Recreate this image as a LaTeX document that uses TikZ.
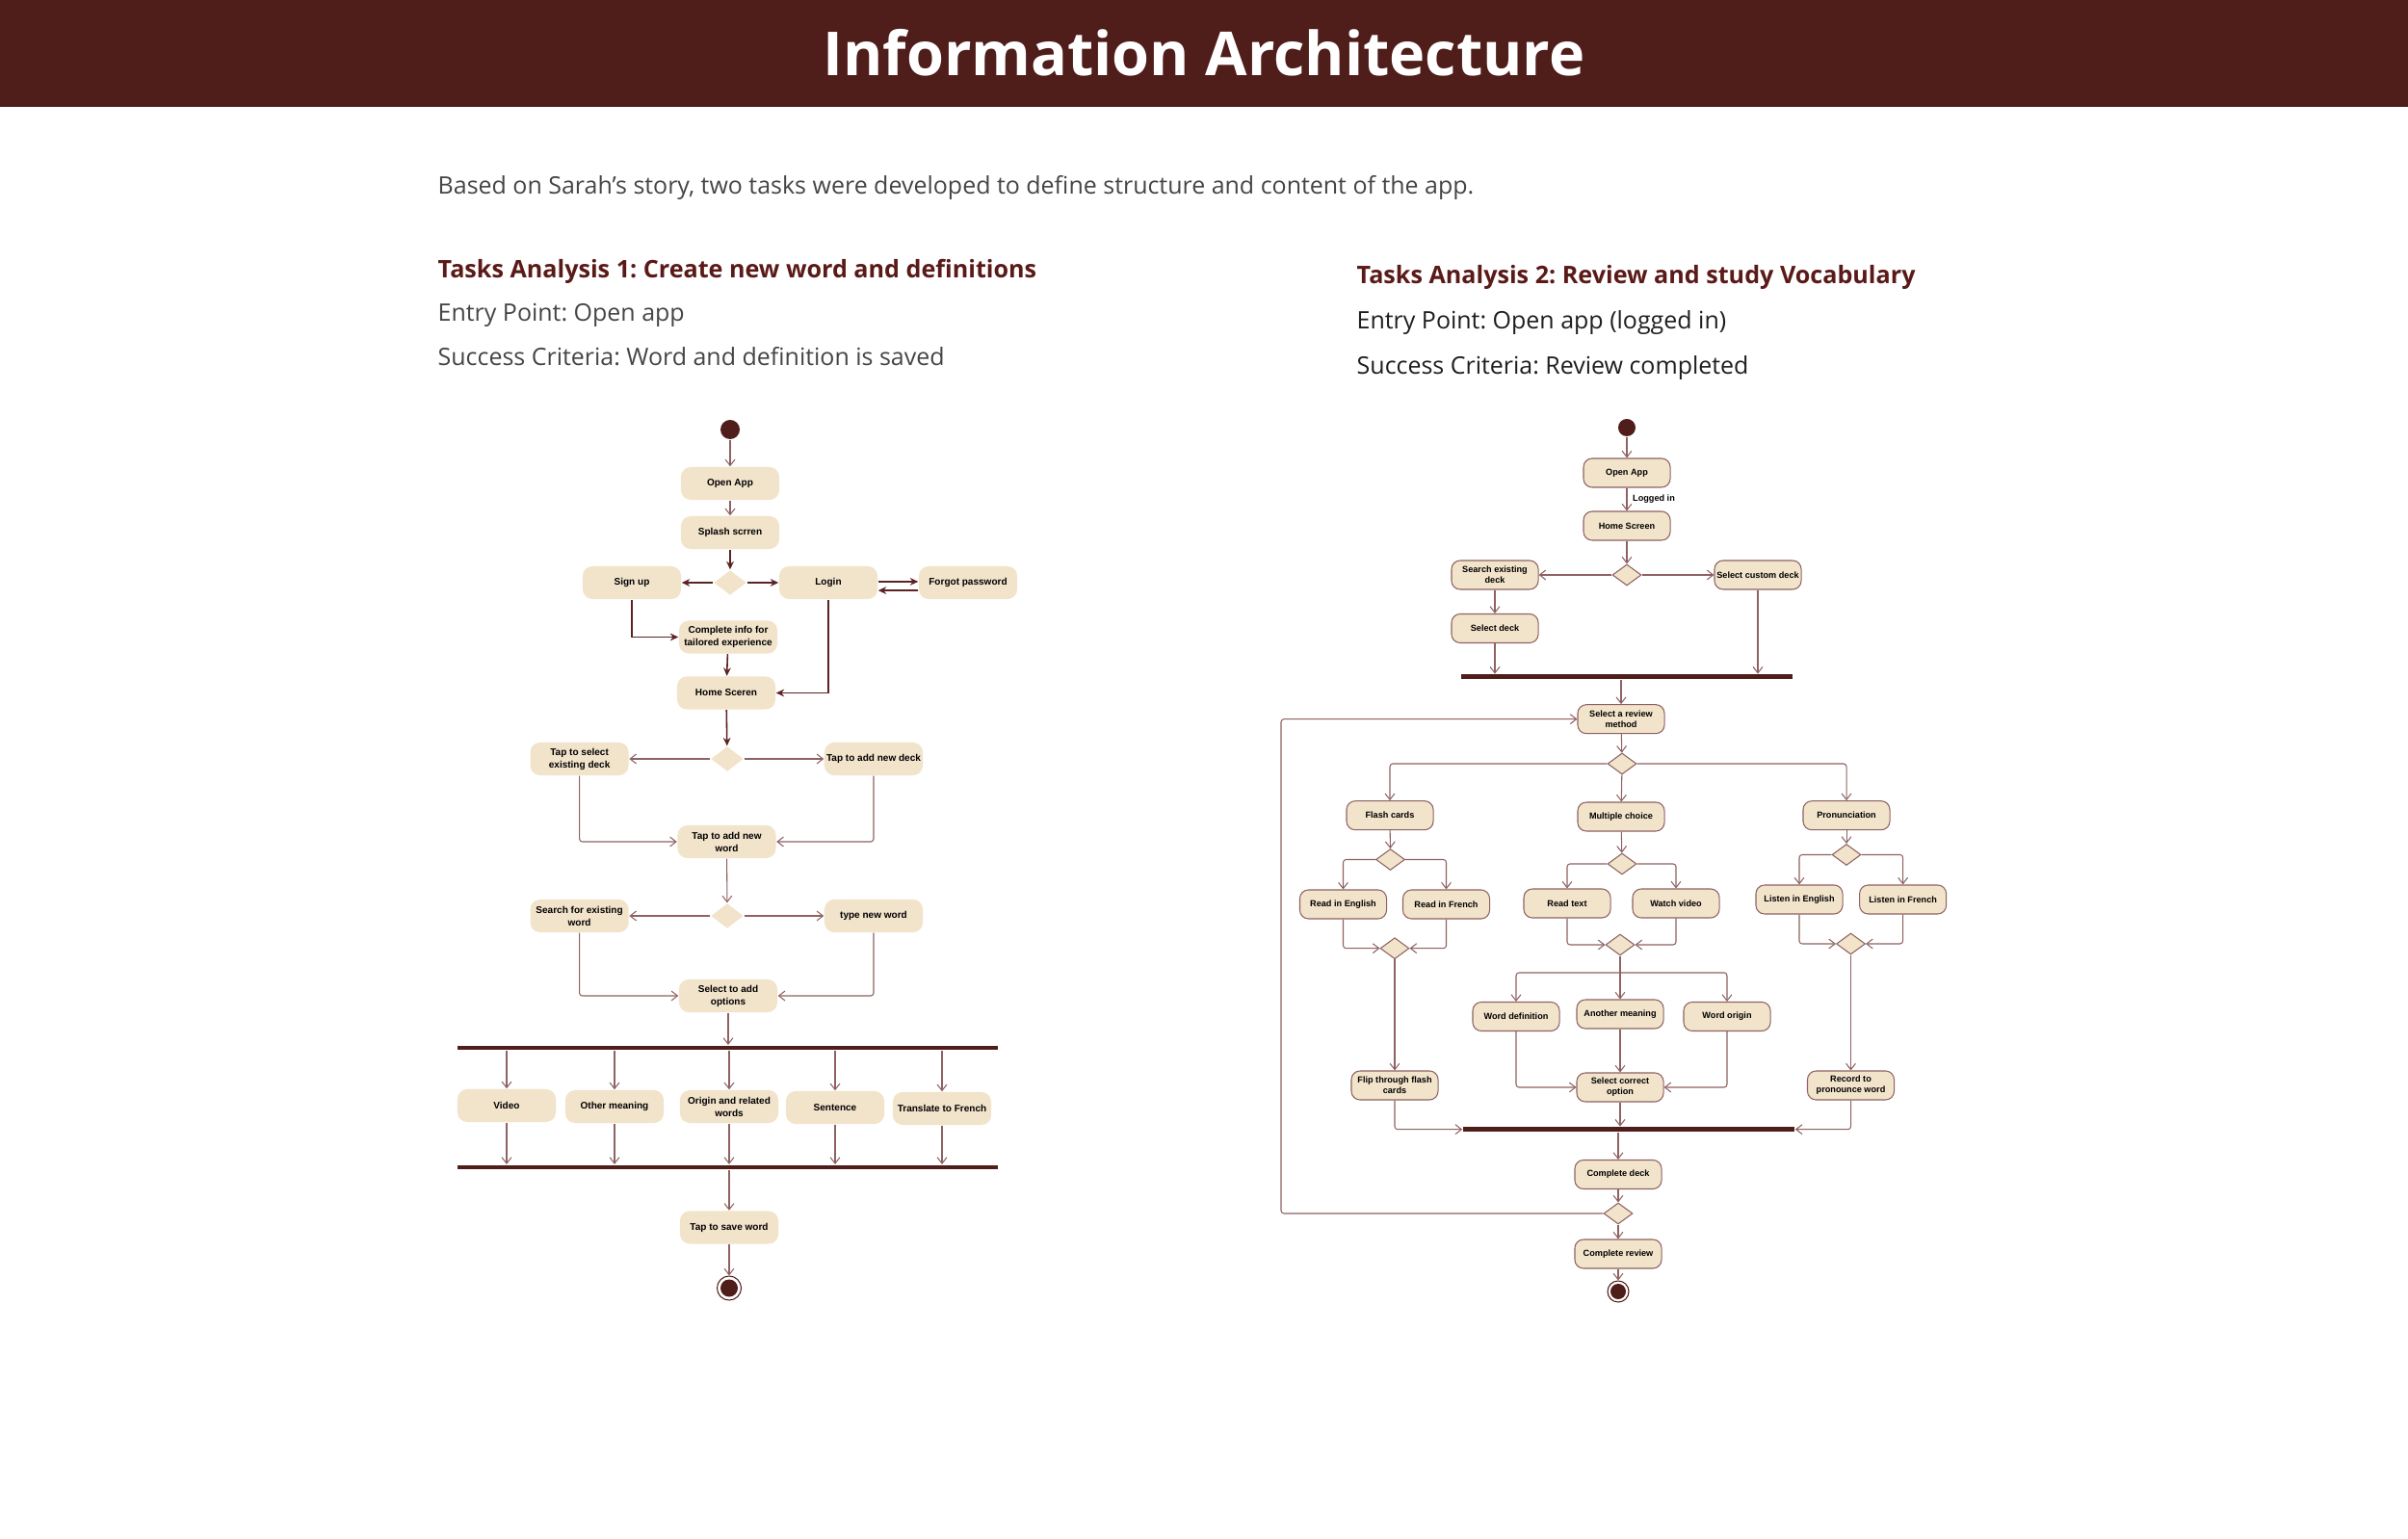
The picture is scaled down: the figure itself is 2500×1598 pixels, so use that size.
\documentclass[tikz,border=0pt]{standalone}
\usepackage{fontspec}
\setmainfont{Open Sans}
\newfontfamily\boxfont{Liberation Sans}
\usetikzlibrary{shapes.geometric,arrows.meta,calc}
\definecolor{headbar}{HTML}{4F1D1A}
\definecolor{taskred}{HTML}{5A1A18}
\definecolor{bodygray}{HTML}{454545}
\definecolor{bodyblack}{HTML}{1E1E1E}
\definecolor{cream}{HTML}{F2E3CB}
\definecolor{edgedark}{HTML}{5C2323}
\definecolor{edgelight}{HTML}{8E6262}
\newcommand{\lsize}{\boxfont\bfseries\fontsize{2.85pt}{3.7pt}\selectfont}
\newcommand{\rsize}{\boxfont\bfseries\fontsize{2.6pt}{3.2pt}\selectfont}
\newcommand{\bodysize}{\fontsize{7.1pt}{8.5pt}\selectfont}
\newcommand{\tasksize}{\bfseries\fontsize{7.15pt}{8.6pt}\selectfont}
\frenchspacing

\begin{document}
\begin{tikzpicture}[x=0.01cm, y=-0.01cm,
		lbox/.style={rectangle, rounded corners=0.1cm, fill=cream, minimum width=1.02cm,
			minimum height=0.34cm, inner sep=0.5pt, align=center, font=\lsize},
		rbox/.style={rectangle, rounded corners=0.09cm, fill=cream, draw=edgelight, line width=0.3pt,
			minimum width=0.9cm, minimum height=0.3cm, inner sep=0.5pt, align=center, font=\rsize},
		ldec/.style={diamond, fill=cream, minimum width=0.34cm, minimum height=0.26cm, inner sep=0pt},
		rdec/.style={diamond, fill=cream, draw=edgelight, line width=0.3pt, minimum width=0.3cm,
			minimum height=0.22cm, inner sep=0pt},
		syncbar/.style={rectangle, fill=headbar, minimum height=0.047cm, inner sep=0pt},
		startdot/.style={circle, fill=headbar, inner sep=0pt},
		enddot/.style={circle, draw=headbar, line width=0.3pt, fill=white, inner sep=0pt},
		flow/.style={draw=edgelight, line width=0.3pt, rounded corners=0.03cm,
			-{Straight Barb[length=1.8pt,width=2.8pt]}},
		flowdark/.style={draw=edgedark, line width=0.45pt, -{Stealth[length=2.4pt,width=2.2pt]}},
		txt/.style={anchor=base west, inner sep=0pt, font=\bodysize}
		]
		
		\useasboundingbox (0,0) rectangle (2500,1598);
		\fill[headbar] (0,0) rectangle (2500,111);
		\node[anchor=base, inner sep=0pt, text=white, font=\bfseries\fontsize{17.9pt}{21pt}\selectfont]
			(title) at (1250,79) {Information Architecture};
		
		\node[txt, text=bodygray] (intro) at (454,201.7)
			{Based on Sarah’s story, two tasks were developed to define structure and content of the app.};
		\node[txt, text=taskred, font=\tasksize] (task1) at (454,288.3)
			{Tasks Analysis 1: Create new word and definitions};
		\node[txt, text=bodygray] (entry1) at (454,334) {Entry Point: Open app};
		\node[txt, text=bodygray] (crit1) at (454,380) {Success Criteria: Word and definition is saved};
		\node[txt, text=taskred, font=\tasksize] (task2) at (1408,295)
			{Tasks Analysis 2: Review and study Vocabulary};
		\node[txt, text=bodyblack] (entry2) at (1408,341.7) {Entry Point: Open app (logged in)};
		\node[txt, text=bodyblack] (crit2) at (1408,388.3) {Success Criteria: Review completed};
		
		% task 1
		\node[startdot, minimum size=0.2cm] (A0) at (758,446) {};
		\node[lbox] (A1) at (758,502) {Open App};
		\node[lbox] (A2) at (758,553) {Splash scrren};
		\node[ldec] (A3) at (758,605) {};
		\node[lbox] (A4) at (656,605) {Sign up};
		\node[lbox] (A5) at (860,605) {Login};
		\node[lbox] (A6) at (1005,605) {Forgot password};
		\node[lbox] (A7) at (756,661.5) {Complete info for\\tailored experience};
		\node[lbox] (A8) at (754,719.5) {Home Sceren};
		\node[ldec] (A9) at (755,788) {};
		\node[lbox] (A10) at (601.6,788) {Tap to select\\existing deck};
		\node[lbox] (A11) at (907,788) {Tap to add new deck};
		\node[lbox] (A12) at (754.5,874) {Tap to add new\\word};
		\node[ldec] (A13) at (755,951) {};
		\node[lbox] (A14) at (601.6,951) {Search for existing\\word};
		\node[lbox] (A15) at (907,951) {type new word};
		\node[lbox] (A16) at (756,1034) {Select to add\\options};
		\node[syncbar, minimum width=5.61cm] (A17) at (755.5,1088) {};
		\node[lbox] (A18) at (526,1148) {Video};
		\node[lbox] (A19) at (638,1149) {Other meaning};
		\node[lbox] (A20) at (757,1149) {Origin and related\\words};
		\node[lbox] (A21) at (867,1150) {Sentence};
		\node[lbox] (A22) at (978,1151) {Translate to French};
		\node[syncbar, minimum width=5.61cm] (A23) at (755.5,1212) {};
		\node[lbox] (A24) at (757,1274.5) {Tap to save word};
		\node[enddot, minimum size=0.25cm] (A25) at (757,1337.5) {};
		\fill[headbar] (A25) circle (0.09cm);
		
		\draw[flow] (A0) -- (A1);
		\draw[flow] (A1) -- (A2);
		\draw[flowdark] (A2) -- (A3);
		\draw[flowdark] (A3) -- (A4);
		\draw[flowdark] (A3) -- (A5);
		\draw[flowdark] ([yshift=0.3pt]A5.east) -- ([yshift=0.3pt]A6.west);
		\draw[flowdark] ([yshift=-2.3pt]A6.west) -- ([yshift=-2.3pt]A5.east);
		\draw[flowdark] (A4) |- (A7);
		\draw[flowdark] (A7) -- (A8);
		\draw[flowdark] (A5) |- (A8);
		\draw[flowdark] (A8) -- (A9);
		\draw[flow] (A9) -- (A10);
		\draw[flow] (A9) -- (A11);
		\draw[flow] (A10) |- (A12);
		\draw[flow] (A11) |- (A12);
		\draw[flow] (A12) -- (A13);
		\draw[flow] (A13) -- (A14);
		\draw[flow] (A13) -- (A15);
		\draw[flow] (A14) |- (A16);
		\draw[flow] (A15) |- (A16);
		\draw[flow] (A16) -- (A16 |- A17.north);
		\foreach \n in {18,...,22}{
			\draw[flow] (A\n |- A17.south) -- (A\n);
			\draw[flow] (A\n) -- (A\n |- A23.north);
		}
		\draw[flow] (A23.south -| A24) -- (A24);
		\draw[flow] (A24) -- (A25);
		
		% task 2
		\node[startdot, minimum size=0.18cm] (B0) at (1689,444) {};
		\node[rbox] (B1) at (1689,491) {Open App};
		\node[rbox] (B2) at (1689,546) {Home Screen};
		\node[rdec] (B3) at (1689,597) {};
		\node[rbox] (B4) at (1552,597) {Search existing\\deck};
		\node[rbox] (B5) at (1825,597) {Select custom deck};
		\node[rbox] (B6) at (1552,652.5) {Select deck};
		\node[syncbar, minimum width=3.43cm] (B7) at (1689,702.7) {};
		\node[rbox] (B8) at (1683,746.7) {Select a review\\method};
		\node[rdec] (B9) at (1684,793) {};
		\node[rbox] (B10) at (1443,846.7) {Flash cards};
		\node[rbox] (B11) at (1683,848) {Multiple choice};
		\node[rbox] (B12) at (1917,846.7) {Pronunciation};
		\node[rdec] (B13) at (1443.5,892.5) {};
		\node[rdec] (B14) at (1684,897) {};
		\node[rdec] (B15) at (1917,887.5) {};
		\node[rbox] (B16) at (1394.5,939) {Read in English};
		\node[rbox] (B17) at (1501.5,939) {Read in French};
		\node[rbox] (B18) at (1627,938) {Read text};
		\node[rbox] (B19) at (1740,938) {Watch video};
		\node[rbox] (B20) at (1868,934) {Listen in English};
		\node[rbox] (B21) at (1975.6,934) {Listen in French};
		\node[rdec] (B22) at (1448,984.7) {};
		\node[rdec] (B23) at (1682,981) {};
		\node[rdec] (B24) at (1921.5,980) {};
		\node[rbox] (B25) at (1574,1055.5) {Word definition};
		\node[rbox] (B26) at (1682,1053) {Another meaning};
		\node[rbox] (B27) at (1793,1055.5) {Word origin};
		\node[rbox] (B28) at (1448,1127) {Flip through flash\\cards};
		\node[rbox] (B29) at (1682,1129) {Select correct\\option};
		\node[rbox] (B30) at (1921.5,1127) {Record to\\pronounce word};
		\node[syncbar, minimum width=3.44cm] (B31) at (1691,1172.7) {};
		\node[rbox] (B32) at (1680,1219.5) {Complete deck};
		\node[rdec] (B33) at (1680,1260) {};
		\node[rbox] (B34) at (1680,1302) {Complete review};
		\node[enddot, minimum size=0.22cm] (B35) at (1680,1341) {};
		\fill[headbar] (B35) circle (0.08cm);
		\coordinate (B36) at (1682,1010);
		\coordinate (B37) at (1330,1000);
		
		\draw[flow] (B0) -- (B1);
		\draw[flow] (B1) -- (B2) node[midway, anchor=west, xshift=1.6pt, inner sep=0pt, font=\rsize]{Logged in};
		\draw[flow] (B2) -- (B3);
		\draw[flow] (B3) -- (B4);
		\draw[flow] (B3) -- (B5);
		\draw[flow] (B4) -- (B6);
		\draw[flow] (B6) -- (B6 |- B7.north);
		\draw[flow] (B5) -- (B5 |- B7.north);
		\draw[flow] (B7.south -| B8) -- (B8);
		\draw[flow] (B8) -- (B9);
		\draw[flow] (B9) -| (B10);
		\draw[flow] (B9) -- (B11);
		\draw[flow] (B9) -| (B12);
		\draw[flow] (B10) -- (B13);
		\draw[flow] (B13) -| (B16);
		\draw[flow] (B13) -| (B17);
		\draw[flow] (B11) -- (B14);
		\draw[flow] (B14) -| (B18);
		\draw[flow] (B14) -| (B19);
		\draw[flow] (B12) -- (B15);
		\draw[flow] (B15) -| (B20);
		\draw[flow] (B15) -| (B21);
		\draw[flow] (B16) |- (B22);
		\draw[flow] (B17) |- (B22);
		\draw[flow] (B18) |- (B23);
		\draw[flow] (B19) |- (B23);
		\draw[flow] (B20) |- (B24);
		\draw[flow] (B21) |- (B24);
		\draw[flow] (B22) -- (B28);
		\draw[flow] (B24) -- (B30);
		\draw[flow] (B23) -- (B26);
		\draw[flow] (B36) -| (B25);
		\draw[flow] (B36) -| (B27);
		\draw[flow] (B25) |- (B29);
		\draw[flow] (B26) -- (B29);
		\draw[flow] (B27) |- (B29);
		\draw[flow] (B28) |- (B31);
		\draw[flow] (B30) |- (B31);
		\draw[flow] (B29) -- (B29 |- B31.north);
		\draw[flow] (B31.south -| B32) -- (B32);
		\draw[flow] (B32) -- (B33);
		\draw[flow] (B33) -- (B34);
		\draw[flow] (B34) -- (B35);
		\draw[flow] (B33) -| (B37) |- (B8);
	\end{tikzpicture}
\end{document}
